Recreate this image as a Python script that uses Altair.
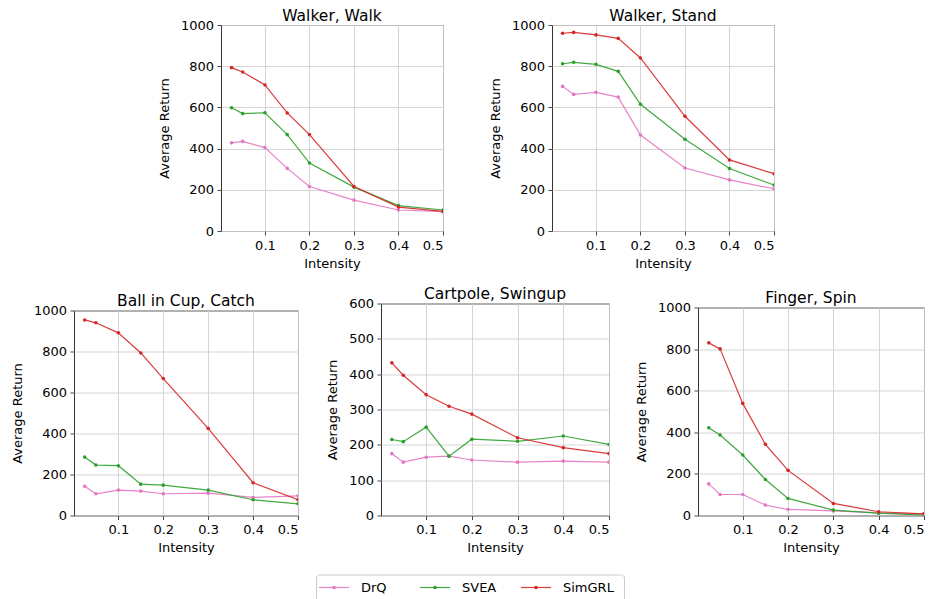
import altair as alt
import pandas as pd

intensity = [0.025, 0.05, 0.1, 0.15, 0.2, 0.3, 0.4, 0.5]
x_ticks = [0.1, 0.2, 0.3, 0.4, 0.5]
methods = ["DrQ", "SVEA", "SimGRL"]
method_colors = ["#e377c2", "#2ca02c", "#d62728"]

walk_drq = [428, 435, 405, 304, 216, 150, 102, 94]
walk_svea = [598, 570, 574, 468, 330, 213, 123, 102]
walk_simgrl = [793, 772, 709, 573, 468, 216, 116, 95]

stand_drq = [702, 663, 673, 650, 466, 306, 248, 205]
stand_svea = [812, 819, 809, 775, 615, 445, 303, 223]
stand_simgrl = [960, 964, 952, 935, 840, 557, 345, 278]

cup_drq = [143, 106, 124, 119, 106, 109, 88, 96]
cup_svea = [285, 246, 243, 153, 148, 124, 77, 57]
cup_simgrl = [954, 940, 891, 793, 668, 425, 160, 77]

cart_drq = [175, 151, 165, 168, 157, 151, 154, 151]
cart_svea = [215, 209, 250, 168, 216, 210, 225, 201]
cart_simgrl = [432, 397, 342, 309, 287, 220, 192, 175]

spin_drq = [152, 101, 101, 50, 29, 22, 13, 8]
spin_svea = [422, 387, 291, 173, 82, 26, 11, 2]
spin_simgrl = [830, 801, 539, 342, 217, 58, 18, 8]

FONT = "DejaVu Sans"


def panel(title, series, ymax, ystep, w, h):
    rows = []
    for m, vals in zip(methods, series):
        for x, v in zip(intensity, vals):
            rows.append({"Intensity": x, "Return": v, "Method": m})
    df = pd.DataFrame(rows)
    base = alt.Chart(df).encode(
        x=alt.X("Intensity:Q",
                scale=alt.Scale(domain=[0.00125, 0.5], nice=False, zero=False),
                axis=alt.Axis(values=x_ticks, format=".1f", title="Intensity")),
        y=alt.Y("Return:Q",
                scale=alt.Scale(domain=[0, ymax], nice=False),
                axis=alt.Axis(values=list(range(0, ymax + 1, ystep)), format="d",
                              title="Average Return")),
        color=alt.Color("Method:N", scale=alt.Scale(domain=methods, range=method_colors), legend=None),
    )
    lines = base.mark_line(strokeWidth=1.2, opacity=0.9, clip=True)
    pts = base.mark_circle(size=13, opacity=1, clip=True)
    return alt.layer(lines, pts).properties(
        width=w, height=h,
        title=alt.TitleParams(title, font=FONT, fontSize=15.5, fontWeight="normal",
                              anchor="middle", frame="group", offset=-5, color="black"),
    )


def spacer(w, h):
    return alt.Chart(pd.DataFrame({"v": [0]})).mark_point(size=0, opacity=0).properties(
        width=w, height=h, view=alt.ViewBackground(strokeOpacity=0)
    )


p1 = panel("Walker, Walk", [walk_drq, walk_svea, walk_simgrl], 1000, 200, 222, 206)
p2 = panel("Walker, Stand", [stand_drq, stand_svea, stand_simgrl], 1000, 200, 222, 206)
p3 = panel("Ball in Cup, Catch", [cup_drq, cup_svea, cup_simgrl], 1000, 200, 224, 205)
p4 = panel("Cartpole, Swingup", [cart_drq, cart_svea, cart_simgrl], 600, 100, 228, 212)
p5 = panel("Finger, Spin", [spin_drq, spin_svea, spin_simgrl], 1000, 200, 226, 208)

top_row = alt.hconcat(spacer(39, 1), p1, p2, spacing=44)
bottom_row = alt.hconcat(
    alt.vconcat(spacer(1, 8), p3, spacing=0),
    alt.hconcat(
        alt.vconcat(spacer(1, 1), p4, spacing=0),
        alt.vconcat(spacer(1, 5), p5, spacing=0),
        spacing=24,
    ),
    spacing=27,
)

leg_df = pd.DataFrame({"Method": methods})
leg_x = alt.X("Method:N", scale=alt.Scale(domain=methods, range=[18, 220], padding=0), axis=None)
leg_color = alt.Color("Method:N", scale=alt.Scale(domain=methods, range=method_colors), legend=None)
leg_line = alt.Chart(leg_df).mark_point(
    shape="M-1,0L1,0", size=900, filled=False, strokeWidth=1.2, opacity=0.9
).encode(x=leg_x, color=leg_color)
leg_dot = alt.Chart(leg_df).mark_circle(size=13, opacity=1).encode(x=leg_x, color=leg_color)
leg_text = alt.Chart(leg_df).mark_text(
    align="left", baseline="middle", dx=27, fontSize=13, font=FONT, color="black"
).encode(x=leg_x, text="Method:N")
legend = alt.layer(leg_line, leg_dot, leg_text).properties(
    width=308, height=26,
    view=alt.ViewBackground(stroke="#cccccc", strokeWidth=1, cornerRadius=3),
)
legend_row = alt.hconcat(spacer(240, 1), legend, spacing=1)

chart = alt.vconcat(
    alt.vconcat(top_row, bottom_row, spacing=14.5, center=False),
    legend_row,
    spacing=18.5,
    center=False,
).properties(
    padding={"left": 10, "top": 8, "right": 0, "bottom": 0},
    background="white",
).configure_view(
    stroke="#333333", strokeWidth=1
).configure_axis(
    grid=True, gridColor="#d0d0d0", gridWidth=0.9,
    domain=False,
    tickColor="#333333", tickSize=4, tickWidth=0.9,
    labelFont=FONT, labelFontSize=13, labelColor="black",
    titleFont=FONT, titleFontSize=13, titleFontWeight="normal", titleColor="black",
).configure_axisX(
    labelPadding=4, titlePadding=5,
).configure_axisY(
    labelPadding=3.5, titlePadding=9,
)

chart.save("out.html", embed_options={"renderer": "svg", "actions": False})
